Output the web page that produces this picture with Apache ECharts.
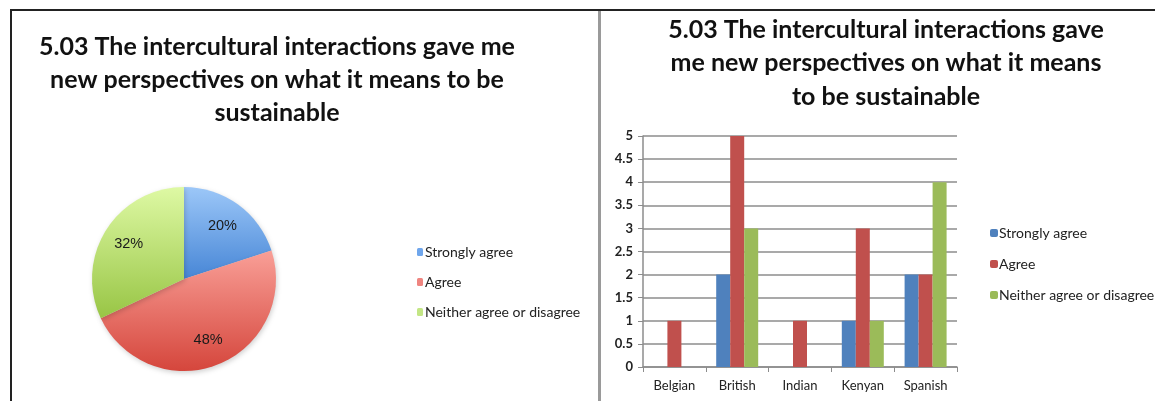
<!DOCTYPE html>
<html>
<head>
<meta charset="utf-8">
<script src="https://cdn.jsdelivr.net/npm/echarts@6/dist/echarts.min.js"></script>
<style>
  body { margin: 0; background: #fff; }
  .wrap { position: relative; width: 1155px; height: 401px; overflow: hidden; background: #fff; }
  .chart { position: absolute; left: 0; top: 0; width: 1155px; height: 401px; }
  .line { position: absolute; }
</style>
</head>
<body>
<div class="wrap">
  <div class="line" style="left:10px;top:9px;width:1145px;height:2px;background:#222;"></div>
  <div class="line" style="left:10px;top:9px;width:2px;height:392px;background:#222;"></div>
  <div class="line" style="left:598px;top:11px;width:3px;height:390px;background:#9a9a9a;"></div>
  <div id="pie" class="chart"></div>
  <div id="bar" class="chart"></div>
</div>
<script>
// 数据
const answers = ['Strongly agree', 'Agree', 'Neither agree or disagree']
const pieShare = [20, 48, 32]
const countries = ['Belgian', 'British', 'Indian', 'Kenyan', 'Spanish']
const stronglyAgree = [0, 2, 0, 1, 2]
const agree = [1, 5, 1, 3, 2]
const neither = [0, 3, 0, 1, 4]
const yTicks = { min: 0, max: 5, interval: 0.5 }
const pieTitle = '5.03 The intercultural interactions gave me\nnew perspectives on what it means to be\nsustainable'
const barTitle = '5.03 The intercultural interactions gave\nme new perspectives on what it means\nto be sustainable'

const FONT = 'Lato, "Open Sans", sans-serif'

// 饼图渐变色
const pieColors = [
  ['#9cc7f8', '#4786d6'],
  ['#f99f97', '#d5463c'],
  ['#def9a4', '#98c545']
]
const pieLegendColors = ['#6fa6ec', '#ef8580', '#c3e685']
const barColors = ['#4f81bd', '#c0504d', '#9bbb59']

function grad(c) {
  return new echarts.graphic.LinearGradient(0, 0, 0, 1, [
    { offset: 0, color: c[0] },
    { offset: 1, color: c[1] }
  ])
}

// 左侧饼图
const pieChart = echarts.init(document.getElementById('pie'))
pieChart.setOption({
  animation: false,
  graphic: [{
    type: 'text',
    style: {
      text: pieTitle, x: 277, y: 80, align: 'center', verticalAlign: 'middle',
      fontFamily: FONT, fontWeight: 'bold', fontSize: 25, lineHeight: 33, fill: '#111'
    }
  }],
  legend: {
    orient: 'vertical',
    left: 412,
    top: 240,
    itemWidth: 6,
    itemHeight: 8,
    itemGap: 16,
    textStyle: { fontFamily: FONT, fontSize: 14, color: '#222', padding: [0, 0, 0, -3] },
    data: answers.map((n, i) => ({ name: n, itemStyle: { color: pieLegendColors[i] } }))
  },
  series: [
    {
      type: 'pie',
      center: [184, 279],
      radius: [0, 92],
      startAngle: 90,
      label: { show: false },
      labelLine: { show: false },
      itemStyle: { shadowBlur: 5, shadowOffsetX: 1, shadowOffsetY: 2, shadowColor: 'rgba(0,0,0,0.18)' },
      data: answers.map((n, i) => ({ name: n, value: pieShare[i], itemStyle: { color: grad(pieColors[i]) } }))
    },
    {
      // 标签层，放在半径约0.68处
      type: 'pie',
      center: [184, 279],
      radius: [33, 92],
      startAngle: 90,
      silent: true,
      itemStyle: { color: 'rgba(0,0,0,0)' },
      label: {
        show: true, position: 'inside', formatter: '{c}%',
        fontFamily: '"Liberation Sans", Arial, sans-serif', fontSize: 14.5, color: '#1a1a1a'
      },
      labelLine: { show: false },
      data: answers.map((n, i) => ({ name: n, value: pieShare[i] }))
    }
  ]
})

// 右侧柱状图
const axisGray = '#8c8c8c'
const barChart = echarts.init(document.getElementById('bar'))
barChart.setOption({
  animation: false,
  graphic: [{
    type: 'text',
    style: {
      text: barTitle, x: 886, y: 63, align: 'center', verticalAlign: 'middle',
      fontFamily: FONT, fontWeight: 'bold', fontSize: 25, lineHeight: 33.5, fill: '#111'
    }
  }],
  legend: {
    orient: 'vertical',
    left: 985,
    top: 221,
    itemWidth: 8,
    itemHeight: 8,
    itemGap: 17,
    textStyle: { fontFamily: FONT, fontSize: 14, color: '#222', padding: [0, 0, 0, -4] },
    data: answers
  },
  grid: { left: 643, right: 198, top: 136, bottom: 34 },
  xAxis: {
    type: 'category',
    data: countries,
    axisLine: { lineStyle: { color: axisGray, width: 1.5 } },
    axisTick: { show: true, length: 5, lineStyle: { color: axisGray } },
    axisLabel: { fontFamily: FONT, fontSize: 13, color: '#222', margin: 12 }
  },
  yAxis: {
    type: 'value',
    min: yTicks.min,
    max: yTicks.max,
    interval: yTicks.interval,
    axisLine: { show: true, lineStyle: { color: axisGray, width: 1.5 } },
    axisTick: { show: true, length: 5, lineStyle: { color: axisGray } },
    axisLabel: { fontFamily: FONT, fontSize: 13, fontWeight: 'bold', color: '#222', margin: 10 },
    splitLine: { lineStyle: { color: axisGray, width: 1.5 } }
  },
  series: [
    { name: answers[0], type: 'bar', barWidth: 14, barGap: '0%', itemStyle: { color: barColors[0] }, data: stronglyAgree },
    { name: answers[1], type: 'bar', barWidth: 14, barGap: '0%', itemStyle: { color: barColors[1] }, data: agree },
    { name: answers[2], type: 'bar', barWidth: 14, barGap: '0%', itemStyle: { color: barColors[2] }, data: neither }
  ]
})
</script>
</body>
</html>
